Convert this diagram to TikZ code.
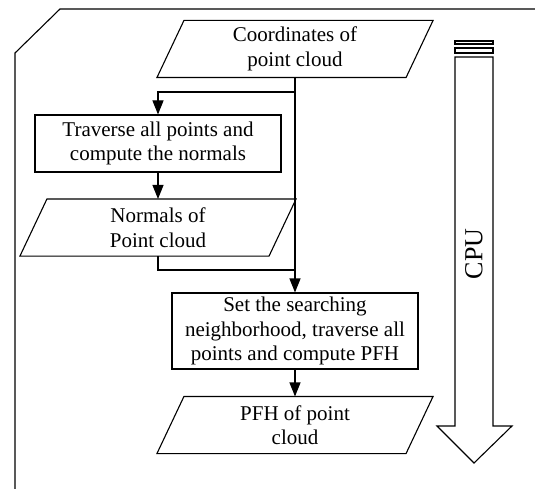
\documentclass[tikz,border=0pt]{standalone}
\usepackage{fontspec}
\setmainfont{Liberation Serif}
\usetikzlibrary{arrows.meta}
\begin{document}
\begin{tikzpicture}[x=1pt,y=-1pt,line width=1.1pt,
  txt/.style={font=\fontsize{21}{24.5}\selectfont,align=center,inner sep=0pt},
  proc/.style={txt,draw,minimum width=246pt},
  data/.style={txt,minimum width=248pt,minimum height=56pt},
  flow/.style={-{Triangle[length=14pt,width=11pt]}}]
\useasboundingbox (0,0) rectangle (535,489);
\draw (535,9) -- (60,9) -- (15,53) -- (15,489);
\node[data] (pc) at (295,49) {Coordinates of\\point cloud};
\draw ([xshift=13.5pt]pc.north west) -- ([xshift=13.5pt]pc.north east) -- ([xshift=-13.5pt]pc.south east) -- ([xshift=-13.5pt]pc.south west) -- cycle;
\node[proc,minimum height=57pt] (nrm) at (158,143.5) {Traverse all points and\\compute the normals};
\node[data] (nc) at (158,227.5) {Normals of\\Point cloud};
\draw ([xshift=13.5pt]nc.north west) -- ([xshift=13.5pt]nc.north east) -- ([xshift=-13.5pt]nc.south east) -- ([xshift=-13.5pt]nc.south west) -- cycle;
\node[proc,minimum height=76pt] (pfh) at (295,331) {Set the searching\\neighborhood, traverse all\\points and compute PFH};
\node[data] (pfc) at (295,425) {PFH of point\\cloud};
\draw ([xshift=13.5pt]pfc.north west) -- ([xshift=13.5pt]pfc.north east) -- ([xshift=-13.5pt]pfc.south east) -- ([xshift=-13.5pt]pfc.south west) -- cycle;
\coordinate (br) at (295,92);
\coordinate (jn) at (295,270);
\draw[flow] (pc.south) -- (pfh.north);
\draw[flow] (br) -| (nrm.north);
\draw[flow] (nrm.south) -- (nc.north);
\draw (nc.south) |- (jn);
\draw[flow] (pfh.south) -- (pfc.north);
\draw (455,57) -- (455,426) -- (437,426) -- (474,463) -- (512,426) -- (493,426) -- (493,57) -- cycle;
\draw (455,48) rectangle (493,53);
\draw (455,41) rectangle (493,44);
\node[font=\fontsize{26}{30}\selectfont,rotate=90,inner sep=0pt] (cpu) at (474,254) {CPU};
\end{tikzpicture}
\end{document}
